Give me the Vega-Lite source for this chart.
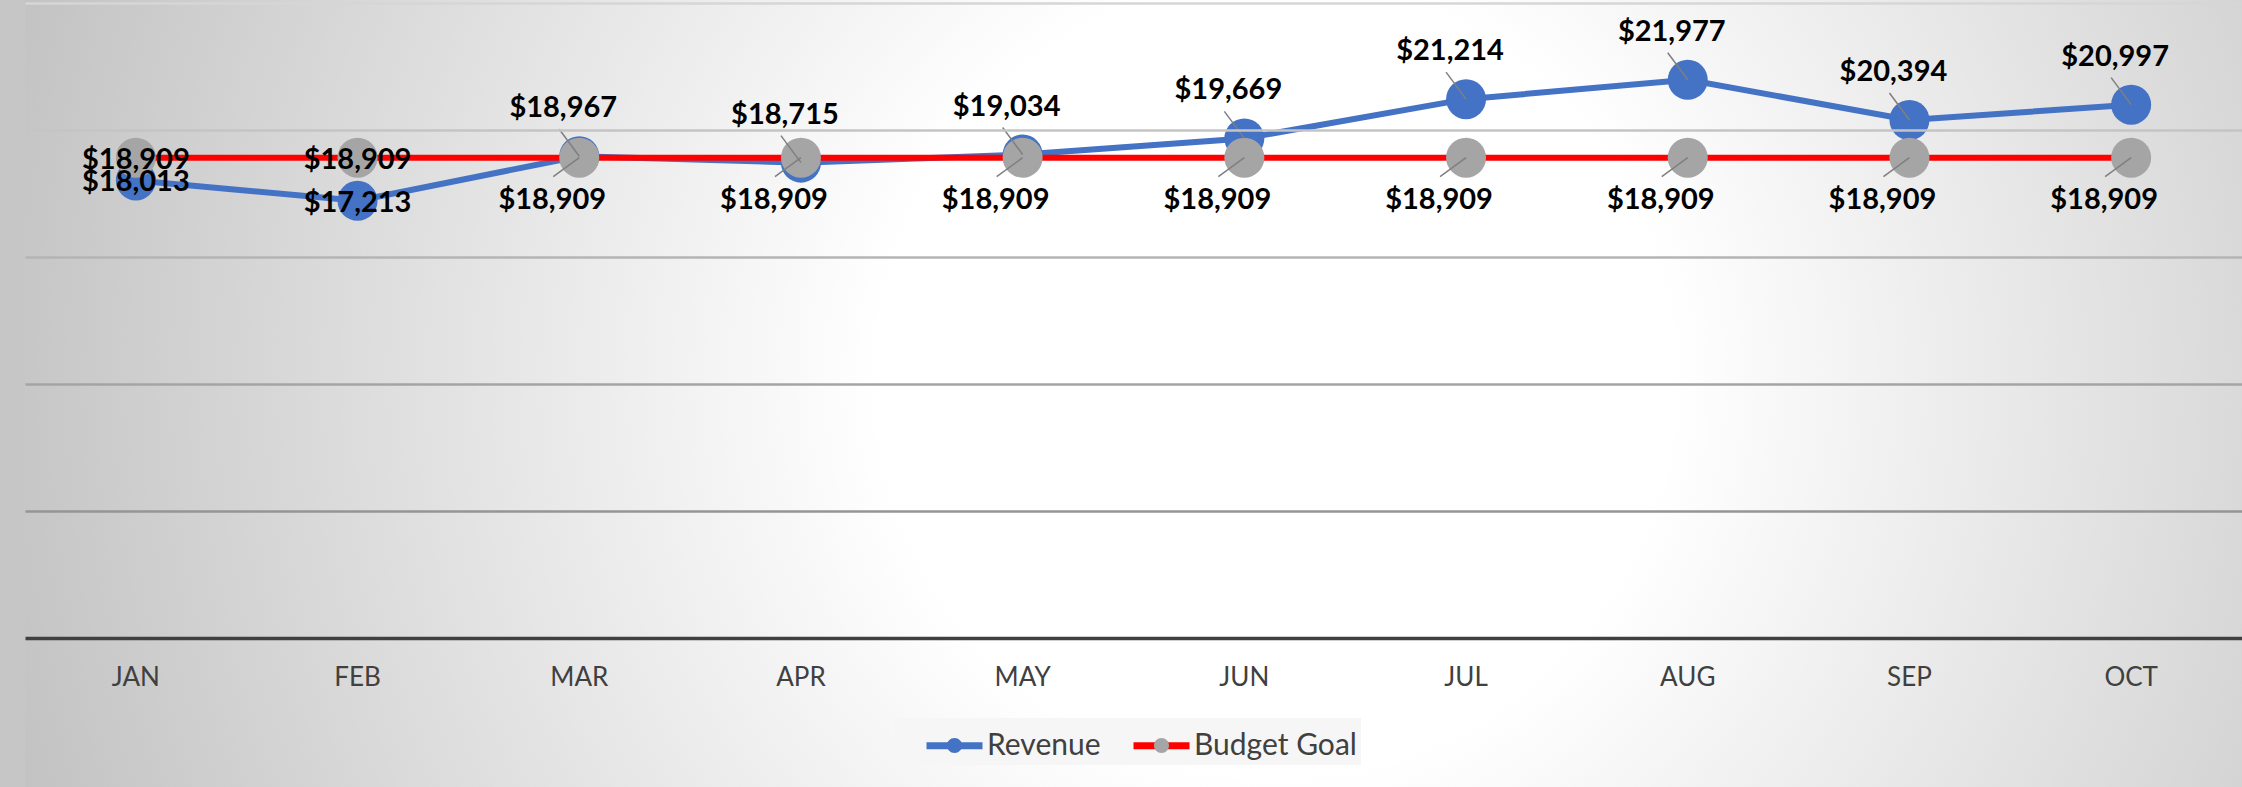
{
  "$schema": "https://vega.github.io/schema/vega-lite/v6.json",
  "width": 2217,
  "height": 635,
  "autosize": {"type": "none"},
  "padding": {"left": 25, "top": 3, "right": 0, "bottom": 149},
  "background": "#c6c6c6",
  "config": {"view": {"stroke": null}, "font": "Lato"},
  "data": {
    "values": [
      {"month": "JAN", "series": "Revenue", "value": 18013},
      {"month": "FEB", "series": "Revenue", "value": 17213},
      {"month": "MAR", "series": "Revenue", "value": 18967},
      {"month": "APR", "series": "Revenue", "value": 18715},
      {"month": "MAY", "series": "Revenue", "value": 19034},
      {"month": "JUN", "series": "Revenue", "value": 19669},
      {"month": "JUL", "series": "Revenue", "value": 21214},
      {"month": "AUG", "series": "Revenue", "value": 21977},
      {"month": "SEP", "series": "Revenue", "value": 20394},
      {"month": "OCT", "series": "Revenue", "value": 20997},
      {"month": "JAN", "series": "Budget Goal", "value": 18909},
      {"month": "FEB", "series": "Budget Goal", "value": 18909},
      {"month": "MAR", "series": "Budget Goal", "value": 18909},
      {"month": "APR", "series": "Budget Goal", "value": 18909},
      {"month": "MAY", "series": "Budget Goal", "value": 18909},
      {"month": "JUN", "series": "Budget Goal", "value": 18909},
      {"month": "JUL", "series": "Budget Goal", "value": 18909},
      {"month": "AUG", "series": "Budget Goal", "value": 18909},
      {"month": "SEP", "series": "Budget Goal", "value": 18909},
      {"month": "OCT", "series": "Budget Goal", "value": 18909}
    ]
  },
  "layer": [
    {
      "data": {"values": [{}]},
      "mark": {
        "type": "rect",
        "fill": {
          "gradient": "radial",
          "x1": 0.56, "y1": 0.46, "x2": 0.56, "y2": 0.46, "r1": 0, "r2": 0.56,
          "stops": [
            {"offset": 0, "color": "#ffffff"},
            {"offset": 0.3, "color": "#ffffff"},
            {"offset": 1, "color": "#c2c2c2"}
          ]
        }
      },
      "encoding": {
        "y": {"datum": 53000, "type": "quantitative", "scale": {"domain": [0, 25000], "nice": false, "zero": false},
          "axis": {"title": null, "labels": false, "ticks": false, "domain": false, "grid": true, "zindex": 1,
            "gridColor": {"condition": [
              {"test": "datum.value >= 25000", "value": "#d6d6d6"},
              {"test": "datum.value >= 20000", "value": "#c4c4c4"},
              {"test": "datum.value >= 15000", "value": "#b4b4b4"},
              {"test": "datum.value >= 10000", "value": "#a4a4a4"}
            ], "value": "#959595"},
            "gridWidth": 2.5, "values": [5000, 10000, 15000, 20000, 25000]}},
        "y2": {"datum": -40000}
      }
    },
    {
      "transform": [{"filter": "datum.series === 'Revenue'"}],
      "mark": {"type": "line", "strokeWidth": 6},
      "encoding": {
        "x": {"field": "month", "type": "ordinal", "sort": ["JAN","FEB","MAR","APR","MAY","JUN","JUL","AUG","SEP","OCT"],
          "axis": {"title": null, "labelAngle": 0, "labelFont": "Lato", "labelFontSize": 26, "labelColor": "#404040", "zindex": 1,
            "labelPadding": 26, "ticks": false, "domainColor": "#404040", "domainWidth": 3.5, "grid": false}},
        "y": {"field": "value", "type": "quantitative"},
        "color": {"field": "series", "type": "nominal",
          "scale": {"domain": ["Revenue", "Budget Goal"], "range": ["#4472c4", "#ff0000"]},
          "legend": {"orient": "none", "legendX": 869, "legendY": 715, "direction": "horizontal", "title": null,
            "symbolType": "M-1.4,0L1.4,0", "symbolSize": 1600, "symbolStrokeWidth": 7,
            "labelFont": "Lato", "labelFontSize": 30, "labelColor": "#404040", "labelOffset": 9, "labelLimit": 400,
            "columnPadding": 4, "padding": 4, "fillColor": "#f6f6f6", "symbolOffset": 33}}
      }
    },
    {
      "transform": [{"filter": "datum.series === 'Revenue'"}],
      "mark": {"type": "circle", "size": 1600, "opacity": 1},
      "encoding": {
        "x": {"field": "month", "type": "ordinal", "sort": ["JAN","FEB","MAR","APR","MAY","JUN","JUL","AUG","SEP","OCT"]},
        "y": {"field": "value", "type": "quantitative"},
        "fill": {"field": "series", "type": "nominal", "sort": ["Revenue", "Budget Goal"],
          "scale": {"range": ["#4472c4", "#a5a5a5"]},
          "legend": {"orient": "none", "legendX": 869, "legendY": 715, "direction": "horizontal", "title": null,
            "symbolType": "M0.375,0A0.375,0.375,0,1,1,-0.375,0A0.375,0.375,0,1,1,0.375,0Z", "symbolSize": 1600,
            "symbolStrokeWidth": 7, "symbolStrokeColor": "transparent",
            "symbolOpacity": 1, "labelFont": "Lato", "labelFontSize": 30, "labelColor": "#404040", "labelOpacity": 0,
            "labelLimit": 400, "labelOffset": 9, "columnPadding": 4, "padding": 4, "symbolOffset": 33}}
      }
    },
    {
      "transform": [{"filter": "datum.series === 'Budget Goal'"}],
      "mark": {"type": "line", "strokeWidth": 6},
      "encoding": {
        "x": {"field": "month", "type": "ordinal", "sort": ["JAN","FEB","MAR","APR","MAY","JUN","JUL","AUG","SEP","OCT"]},
        "y": {"field": "value", "type": "quantitative"},
        "color": {"field": "series", "type": "nominal"}
      }
    },
    {
      "transform": [{"filter": "datum.series === 'Budget Goal'"}],
      "mark": {"type": "circle", "size": 1600, "opacity": 1},
      "encoding": {
        "x": {"field": "month", "type": "ordinal", "sort": ["JAN","FEB","MAR","APR","MAY","JUN","JUL","AUG","SEP","OCT"]},
        "y": {"field": "value", "type": "quantitative"},
        "fill": {"field": "series", "type": "nominal", "sort": ["Revenue", "Budget Goal"]}
      }
    },
    {
      "transform": [{"filter": "datum.series === 'Revenue' && datum.month !== 'JAN' && datum.month !== 'FEB'"}],
      "mark": {"type": "rule", "color": "#7f7f7f", "strokeWidth": 1.5, "x2Offset": -20, "y2Offset": -27},
      "encoding": {
        "x": {"field": "month", "type": "ordinal", "sort": ["JAN","FEB","MAR","APR","MAY","JUN","JUL","AUG","SEP","OCT"]},
        "y": {"field": "value", "type": "quantitative"},
        "x2": {"field": "month"},
        "y2": {"field": "value"}
      }
    },
    {
      "transform": [{"filter": "datum.series === 'Budget Goal' && datum.month !== 'JAN' && datum.month !== 'FEB'"}],
      "mark": {"type": "rule", "color": "#7f7f7f", "strokeWidth": 1.5, "x2Offset": -26, "y2Offset": 19},
      "encoding": {
        "x": {"field": "month", "type": "ordinal", "sort": ["JAN","FEB","MAR","APR","MAY","JUN","JUL","AUG","SEP","OCT"]},
        "y": {"field": "value", "type": "quantitative"},
        "x2": {"field": "month"},
        "y2": {"field": "value"}
      }
    },
    {
      "transform": [{"filter": "datum.series === 'Revenue' && datum.month !== 'JAN' && datum.month !== 'FEB'"}],
      "mark": {"type": "text", "font": "Lato", "fontWeight": "bold", "fontSize": 29, "color": "#000000",
        "align": "center", "baseline": "middle", "dx": -16, "dy": -48},
      "encoding": {
        "x": {"field": "month", "type": "ordinal", "sort": ["JAN","FEB","MAR","APR","MAY","JUN","JUL","AUG","SEP","OCT"]},
        "y": {"field": "value", "type": "quantitative"},
        "text": {"field": "value", "type": "quantitative", "format": "$,.0f"}
      }
    },
    {
      "transform": [{"filter": "datum.series === 'Budget Goal' && datum.month !== 'JAN' && datum.month !== 'FEB'"}],
      "mark": {"type": "text", "font": "Lato", "fontWeight": "bold", "fontSize": 29, "color": "#000000",
        "align": "center", "baseline": "middle", "dx": -27, "dy": 42},
      "encoding": {
        "x": {"field": "month", "type": "ordinal", "sort": ["JAN","FEB","MAR","APR","MAY","JUN","JUL","AUG","SEP","OCT"]},
        "y": {"field": "value", "type": "quantitative"},
        "text": {"field": "value", "type": "quantitative", "format": "$,.0f"}
      }
    },
    {
      "transform": [{"filter": "datum.month === 'JAN' || datum.month === 'FEB'"}],
      "mark": {"type": "text", "font": "Lato", "fontWeight": "bold", "fontSize": 29, "color": "#000000",
        "align": "center", "baseline": "middle", "dy": 2},
      "encoding": {
        "x": {"field": "month", "type": "ordinal", "sort": ["JAN","FEB","MAR","APR","MAY","JUN","JUL","AUG","SEP","OCT"]},
        "y": {"field": "value", "type": "quantitative"},
        "text": {"field": "value", "type": "quantitative", "format": "$,.0f"}
      }
    }
  ]
}
